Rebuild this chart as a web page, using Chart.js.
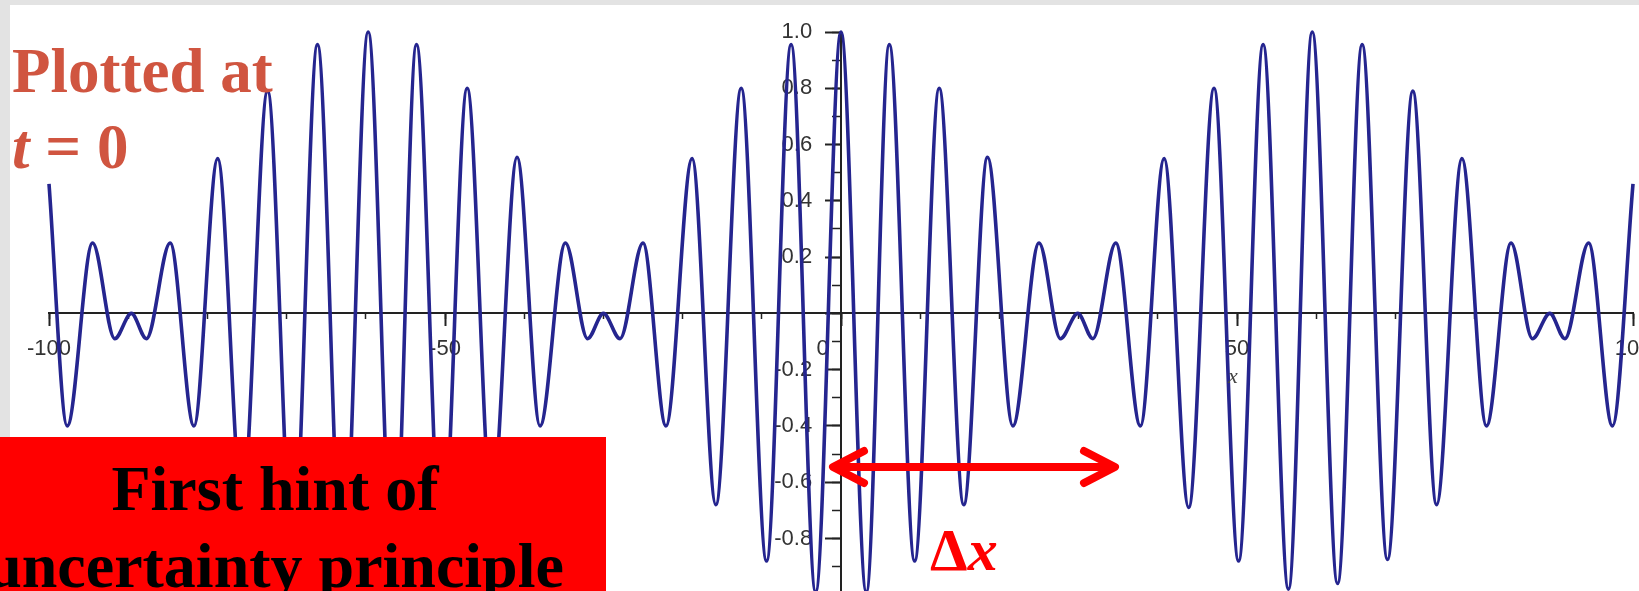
<!DOCTYPE html>
<html>
<head>
<meta charset="utf-8">
<script src="https://cdn.jsdelivr.net/npm/chart.js@4.4.1/dist/chart.umd.min.js"></script>
<style>
  html, body { margin: 0; padding: 0; width: 1639px; height: 591px; overflow: hidden; background: #e3e3e3; }
  .sheet { position: absolute; left: 10px; top: 5px; width: 1640px; height: 600px; background: #fff; }
  .chart { position: absolute; left: 0; top: 0; width: 1690px; height: 676px; }
  .note { position: absolute; left: 12px; top: 33px; color: #d05540; font: bold 63px/76px 'Liberation Serif', 'Times New Roman', serif; white-space: nowrap; }
  .box { position: absolute; left: 0; top: 437px; width: 606px; height: 170px; background: #ff0000; overflow: hidden; }
  .box div { position: absolute; left: -28px; top: 13px; width: 606px; text-align: center; color: #000;
    font: bold 64px/77px 'Liberation Serif', 'Times New Roman', serif; white-space: nowrap; }
  .delta { position: absolute; left: 930px; top: 520px; color: #ff0000; font: bold 60px/60px 'Liberation Serif', 'Times New Roman', serif; }
  .xname { position: absolute; left: 1228px; top: 365px; color: #444; font: italic 22px/22px 'Liberation Serif', serif; }
  svg { position: absolute; left: 0; top: 0; }
</style>
</head>
<body>
<div class="sheet"></div>
<div class="chart"><canvas id="wave"></canvas></div>
<div class="xname">x</div>
<div class="note">Plotted at<br><i>t</i> = 0</div>
<div class="box"><div>First hint of<br>uncertainty principle</div></div>
<svg width="1639" height="591">
  <g stroke="#ff0000" stroke-width="8" stroke-linecap="round" stroke-linejoin="round" fill="none">
    <line x1="835" y1="467" x2="1113" y2="467"/>
    <polyline points="864,451 833,467 864,483"/>
    <polyline points="1084,451 1115,467 1084,483"/>
  </g>
</svg>
<div class="delta">&Delta;<i>x</i></div>
<script>
// peaks, troughs and the small dips (x in plot units)
const xPositions = [
  -100.0, -97.7, -94.5, -91.7, -89.6, -87.7, -84.7, -81.7, -78.7, -75.6,
  -72.4, -69.2, -66.1, -62.9, -59.7, -56.5, -53.6, -50.4, -47.2, -44.1,
  -40.9, -38.0, -34.8, -32.0, -30.0, -27.9, -25.0, -22.1, -18.8, -15.8,
  -12.6, -9.4, -6.3, -3.2, 0.0, 3.2, 6.1, 9.3, 12.4, 15.5,
  18.5, 21.7, 25.0, 27.7, 29.9, 31.8, 34.7, 37.8, 40.8, 43.9,
  47.1, 50.2, 53.3, 56.5, 59.5, 62.7, 65.8, 69.0, 72.2, 75.2,
  78.4, 81.5, 84.6, 87.3, 89.5, 91.4, 94.4, 97.4, 100.0
];
const waveValues = [
  0.46, -0.40, 0.25, -0.09, 0.00, -0.09, 0.25, -0.40, 0.55, -0.68,
  0.79, -0.88, 0.955, -0.97, 1.00, -0.97, 0.955, -0.88, 0.80, -0.68,
  0.555, -0.40, 0.25, -0.09, 0.00, -0.09, 0.25, -0.40, 0.55, -0.68,
  0.80, -0.88, 0.955, -0.99, 1.00, -0.99, 0.955, -0.88, 0.80, -0.68,
  0.555, -0.40, 0.25, -0.09, 0.00, -0.09, 0.25, -0.40, 0.55, -0.69,
  0.80, -0.88, 0.955, -0.98, 1.00, -0.96, 0.955, -0.875, 0.79, -0.68,
  0.55, -0.40, 0.25, -0.09, 0.00, -0.09, 0.25, -0.40, 0.46
];
const xLabelTicks = [-100, -50, 0, 50, 100];
const yLabelTicks = [1.0, 0.8, 0.6, 0.4, 0.2, -0.2, -0.4, -0.6, -0.8];

const points = xPositions.map((x, i) => ({ x: x, y: waveValues[i] }));

const axisColor = "#222";
const tickFont = { family: "'Liberation Sans', Arial, sans-serif", size: 22 };

new Chart(document.getElementById("wave"), {
    type: "line",
    data: {
        datasets: [
            {
                data: points,
                borderColor: "#25258f",
                borderWidth: 3.6,
                pointRadius: 0,
                fill: false,
                cubicInterpolationMode: "monotone",
                clip: false,
            },
        ],
    },
    options: {
        responsive: true,
        maintainAspectRatio: false,
        animation: false,
        layout: { padding: { left: 49, right: 57, top: 32, bottom: 25 } },
        plugins: {
            legend: { display: false },
            tooltip: { enabled: false },
        },
        scales: {
            x: {
                type: "linear",
                min: -100,
                max: 100,
                position: { y: 0 },
                grid: { drawOnChartArea: false, tickLength: 12, tickColor: axisColor, tickWidth: 2 },
                border: { display: true, color: axisColor, width: 2 },
                ticks: {
                    stepSize: 50,
                    maxTicksLimit: 100,
                    autoSkip: false,
                    maxRotation: 0,
                    padding: 10,
                    color: "#333",
                    font: tickFont,
                    callback: function (value) {
                        const v = Math.round(value);
                        if (!xLabelTicks.includes(v)) {
                            return "";
                        }
                        // the origin label sits left of the vertical axis
                        return v === 0 ? "0      " : String(v);
                    },
                },
            },
            x2: {
                type: "linear",
                axis: "x",
                min: -100,
                max: 100,
                position: { y: 0 },
                grid: { drawOnChartArea: false, tickLength: 6, tickColor: axisColor, tickWidth: 1.5 },
                border: { display: false },
                ticks: { display: false, stepSize: 10, maxTicksLimit: 100, autoSkip: false },
            },
            y: {
                type: "linear",
                min: -1.2,
                max: 1.0,
                position: { x: 0 },
                grid: { drawOnChartArea: false, tickLength: 15, tickColor: axisColor, tickWidth: 2 },
                border: { display: true, color: axisColor, width: 2 },
                ticks: {
                    stepSize: 0.2,
                    maxTicksLimit: 100,
                    autoSkip: false,
                    padding: 11,
                    color: "#333",
                    font: tickFont,
                    callback: function (value) {
                        const v = Math.round(value * 10) / 10;
                        // labels are drawn flush with the axis here, so pad them off it
                        return yLabelTicks.includes(v) ? v.toFixed(1) + "    \u2009" : "";
                    },
                },
            },
            y2: {
                type: "linear",
                axis: "y",
                min: -1.2,
                max: 1.0,
                position: { x: 0 },
                grid: { drawOnChartArea: false, tickLength: 9, tickColor: axisColor, tickWidth: 1.5 },
                border: { display: false },
                ticks: { display: false, stepSize: 0.1, maxTicksLimit: 100, autoSkip: false },
            },
        },
    },
});
</script>
</body>
</html>
